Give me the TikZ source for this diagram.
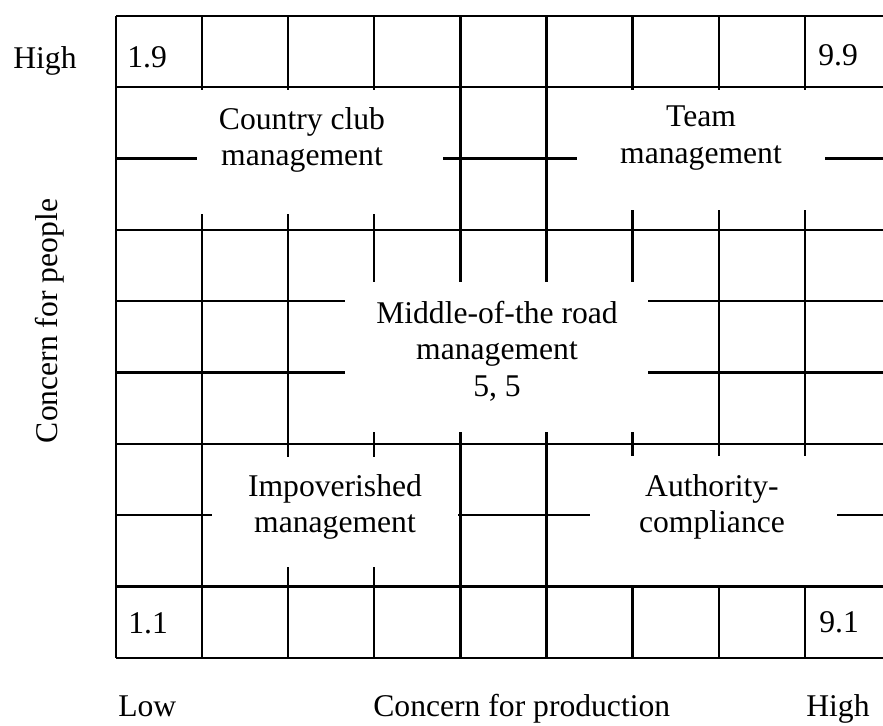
\documentclass[tikz,border=0pt]{standalone}
\usepackage{fontspec}
\setmainfont{Liberation Serif}
\usetikzlibrary{positioning}

\begin{document}
\begin{tikzpicture}[
  x=0.02cm, y=-0.02cm,
  every node/.style={font=\fontsize{18}{20.8}\selectfont},
  grid/.style={line width=1.3pt},
  gap/.style={fill=white},
  zone/.style={align=center, inner sep=0pt},
  corner/.style={anchor=base west, inner sep=0pt},
]
  \useasboundingbox (0,0) rectangle (883,725);

  % 9 x 9 grid, cut on the right by the page edge
  \foreach \i in {0,...,8}
    \draw[grid] ({116+86.1*\i},16) -- ({116+86.1*\i},657.7);
  \foreach \j in {0,...,9}
    \draw[grid] (116,{16+71.3*\j}) -- (884,{16+71.3*\j});

  % open areas for the five styles
  \fill[gap] (197,90) rectangle (443,214);
  \fill[gap] (577,90) rectangle (825,210);
  \fill[gap] (345,282) rectangle (648,432);
  \fill[gap] (212,457) rectangle (458,567);
  \fill[gap] (590,456) rectangle (837,585.2);

  \node[zone] (country) at (302,140) {Country club\\management};
  \node[zone] (team) at (701,138) {Team\\management};
  \node[zone] (middle) at (497,351) {Middle-of-the road\\management\\5, 5};
  \node[zone] (impov) at (335,507) {Impoverished\\management};
  \node[zone] (auth) at (712,507) {Authority-\\compliance};

  % corner scores
  \node[corner] (c19) at (127,67) {1.9};
  \node[corner] (c99) at (818,65) {9.9};
  \node[corner] (c11) at (128,633) {1.1};
  \node[corner] (c91) at (819,632) {9.1};

  % axes
  \node[corner] (yhigh) at (13,68) {High};
  \node[anchor=base, inner sep=0pt, rotate=90] (ylab) at (57,321) {Concern for people};
  \node[corner] (xlow) at (118,716) {Low};
  \node[corner] (xlab) at (373,716) {Concern for production};
  \node[corner] (xhigh) at (806,716) {High};
\end{tikzpicture}
\end{document}
